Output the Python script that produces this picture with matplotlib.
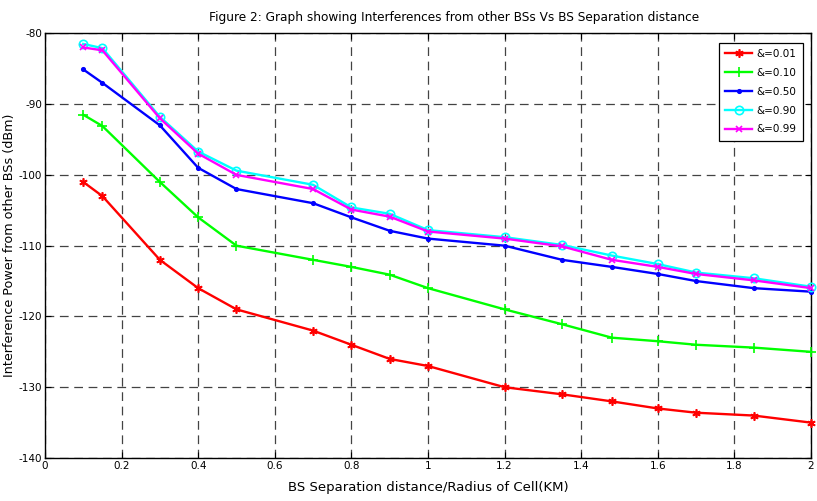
import matplotlib
matplotlib.use("Agg")
import matplotlib.pyplot as plt

# BS separation distance / cell radius (KM)
dist = [0.1, 0.15, 0.3, 0.4, 0.5, 0.7, 0.8, 0.9, 1.0, 1.2, 1.35, 1.48, 1.6, 1.7, 1.85, 2.0]

# interference power (dBm) for each activity factor
p_001 = [-101, -103, -112, -116, -119, -122, -124, -126, -127, -130, -131, -132, -133, -133.6, -134, -135]
p_010 = [-91.5, -93.1, -101, -106, -110, -112, -113, -114.1, -116, -119, -121.1, -123, -123.5, -124, -124.4, -125]
p_050 = [-85.1, -87, -93, -99, -102, -104, -106, -107.9, -109, -110, -112, -113, -114, -115, -116, -116.5]
p_090 = [-81.5, -82.1, -91.8, -96.7, -99.4, -101.4, -104.6, -105.5, -107.8, -108.8, -109.9, -111.4, -112.6, -113.8, -114.6, -115.8]
p_099 = [-82, -82.4, -92, -97, -100, -102, -104.9, -105.9, -108, -109, -110.1, -112, -113, -114, -114.9, -116]

labels = ["&=0.01", "&=0.10", "&=0.50", "&=0.90", "&=0.99"]
xticks = [0, 0.2, 0.4, 0.6, 0.8, 1, 1.2, 1.4, 1.6, 1.8, 2]
yticks = [-140, -130, -120, -110, -100, -90, -80]


def main():
    fig = plt.figure(figsize=(8.17, 5.01), dpi=100)
    ax = fig.add_axes([0.055, 0.0858, 0.9377, 0.8477])

    asterisk = (6, 2, 0)
    styles = [
        (p_001, "#ff0000", asterisk, 6, "full"),
        (p_010, "#00ff00", "+", 7, "full"),
        (p_050, "#0000ff", ".", 5, "full"),
        (p_090, "#00ffff", "o", 6, "none"),
        (p_099, "#ff00ff", "x", 4, "full"),
    ]
    for (vals, col, mk, ms, fill), lab in zip(styles, labels):
        ax.plot(dist, vals, color=col, linewidth=1.7, marker=mk, markersize=ms,
                fillstyle=fill, markeredgewidth=1.2, label=lab, clip_on=False, zorder=3)

    ax.set_xlim(0, 2)
    ax.set_ylim(-140, -80)
    ax.set_xticks(xticks)
    ax.set_xticklabels([f"{t:g}" for t in xticks], fontsize=7.5)
    ax.set_yticks(yticks)
    ax.set_yticklabels([f"{t:g}" for t in yticks], fontsize=7.5)
    ax.tick_params(direction="in", top=True, right=True, length=4, width=0.8, pad=2)

    ax.grid(True, color="#222222", linestyle=(0, (7, 4.5)), linewidth=0.9, alpha=0.85)
    for s in ax.spines.values():
        s.set_linewidth(1.0)

    fig.text(454 / 817, 1 - 18 / 501,
             "Figure 2: Graph showing Interferences from other BSs Vs BS Separation distance",
             fontsize=8.7, ha="center", va="center")
    ax.set_xlabel("BS Separation distance/Radius of Cell(KM)", fontsize=9.5, labelpad=7)
    ax.set_ylabel("Interference Power from other BSs (dBm)", fontsize=9.2, labelpad=2)

    leg = ax.legend(loc="upper right", bbox_to_anchor=(0.996, 0.99), frameon=True,
                    fancybox=False, edgecolor="black", framealpha=1,
                    prop={"size": 7.5}, handlelength=2.6,
                    labelspacing=0.85, borderpad=0.6, handletextpad=0.4)
    leg.get_frame().set_linewidth(0.9)

    fig.savefig("out.png", dpi=100)


if __name__ == "__main__":
    main()
